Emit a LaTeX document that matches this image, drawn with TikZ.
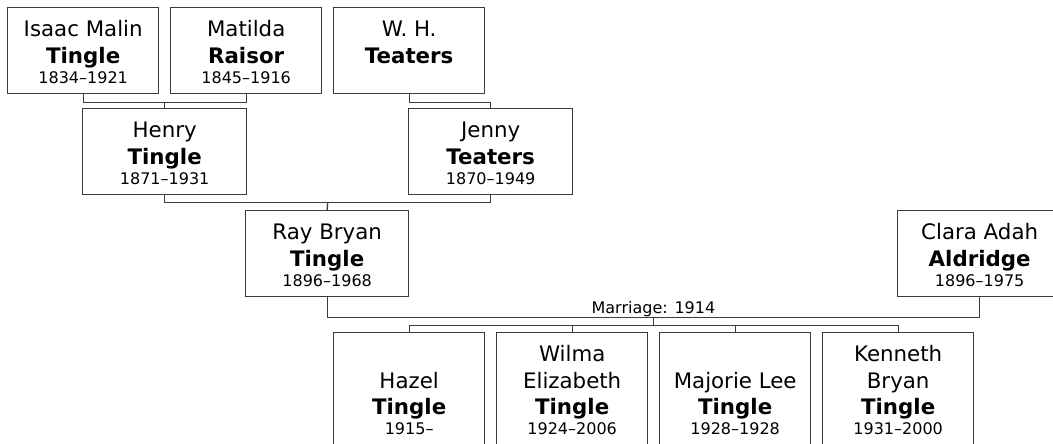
\documentclass[tikz,border=0pt]{standalone}
\usepackage{fontspec}
\setmainfont{DejaVu Sans}
\usetikzlibrary{calc}
\definecolor{linec}{RGB}{60,60,60}
\tikzset{
  pbox/.style={draw=linec, line width=1pt, rectangle, inner sep=0pt, anchor=north west, fill=white},
  conn/.style={draw=linec, line width=1pt},
  nm/.style={anchor=base, inner sep=0pt, font=\fontsize{16pt}{19pt}\selectfont},
  sn/.style={anchor=base, inner sep=0pt, font=\fontsize{16pt}{19pt}\selectfont\bfseries},
  dt/.style={anchor=base, inner sep=0pt, font=\fontsize{12pt}{14pt}\selectfont},
  mar/.style={anchor=base, inner sep=0pt, font=\fontsize{12pt}{14pt}\selectfont},
}
\newcommand\pbx[5]{\node[pbox, minimum width=#4*0.75pt, minimum height=#5*0.75pt] (#1) at (#2,#3) {};}
\newcommand\pline[5]{\node[#4] (#1#2) at ($(#1.north)+(0,#3)$) {#5};}
\begin{document}
\begin{tikzpicture}[x=0.75pt, y=-0.75pt]
\useasboundingbox (0,0) rectangle (1053,443);
\clip (0,0) rectangle (1053,443);
% boxes
\pbx{isaac}{7}{7}{151}{86}
\pbx{matilda}{170}{7}{151}{86}
\pbx{wh}{333}{7}{151}{86}
\pbx{henry}{82}{108}{164}{86}
\pbx{jenny}{408}{108}{164}{86}
\pbx{ray}{245}{210}{163}{86}
\pbx{clara}{897}{210}{164}{86}
\pbx{hazel}{333}{332}{151}{130}
\pbx{wilma}{496}{332}{151}{130}
\pbx{majorie}{659}{332}{151}{130}
\pbx{kenneth}{822}{332}{151}{130}
% texts
\pline{isaac}{a}{29.5}{nm}{Isaac Malin}
\pline{isaac}{b}{56}{sn}{Tingle}
\pline{isaac}{c}{76}{dt}{1834–1921}
\pline{matilda}{a}{29.5}{nm}{Matilda}
\pline{matilda}{b}{56}{sn}{Raisor}
\pline{matilda}{c}{76}{dt}{1845–1916}
\pline{wh}{a}{29.5}{nm}{W. H.}
\pline{wh}{b}{56}{sn}{Teaters}
\pline{henry}{a}{29.5}{nm}{Henry}
\pline{henry}{b}{56}{sn}{Tingle}
\pline{henry}{c}{76}{dt}{1871–1931}
\pline{jenny}{a}{29.5}{nm}{Jenny}
\pline{jenny}{b}{56}{sn}{Teaters}
\pline{jenny}{c}{76}{dt}{1870–1949}
\pline{ray}{a}{29.5}{nm}{Ray Bryan}
\pline{ray}{b}{56}{sn}{Tingle}
\pline{ray}{c}{76}{dt}{1896–1968}
\pline{clara}{a}{29.5}{nm}{Clara Adah}
\pline{clara}{b}{56}{sn}{Aldridge}
\pline{clara}{c}{76}{dt}{1896–1975}
\pline{hazel}{b}{56}{nm}{Hazel}
\pline{hazel}{c}{82}{sn}{Tingle}
\pline{hazel}{d}{102}{dt}{1915–}
\pline{wilma}{a}{29.5}{nm}{Wilma}
\pline{wilma}{b}{56}{nm}{Elizabeth}
\pline{wilma}{c}{82}{sn}{Tingle}
\pline{wilma}{d}{102}{dt}{1924–2006}
\pline{majorie}{b}{56}{nm}{Majorie Lee}
\pline{majorie}{c}{82}{sn}{Tingle}
\pline{majorie}{d}{102}{dt}{1928–1928}
\pline{kenneth}{a}{29.5}{nm}{Kenneth}
\pline{kenneth}{b}{56}{nm}{Bryan}
\pline{kenneth}{c}{82}{sn}{Tingle}
\pline{kenneth}{d}{102}{dt}{1931–2000}
% connectors
\coordinate (im) at ($(isaac.south)!0.5!(matilda.south)+(0,8)$);
\draw[conn] (isaac.south) |- (im) -| (matilda.south);
\draw[conn] (im) -- (henry.north);
\coordinate (wj) at ($(wh.south)+(0,8)$);
\draw[conn] (wh.south) -- (wj) -| (jenny.north);
\coordinate (hj) at ($(henry.south)!0.5!(jenny.south)+(0,7)$);
\draw[conn] (henry.south) |- (hj) -| (jenny.south);
\draw[conn] (hj) -- (ray.north);
\coordinate (rc) at ($(ray.south)!0.5!(clara.south)+(0,20)$);
\draw[conn] (ray.south) |- (rc) -| (clara.south);
\node[mar] (marriage) at ($(rc)+(0,-4)$) {Marriage: 1914};
\coordinate (kids) at ($(rc)+(0,8)$);
\draw[conn] (rc) -- (kids);
\draw[conn] (hazel.north) |- (kids) -| (kenneth.north);
\draw[conn] (wilma.north) -- (wilma.north |- kids);
\draw[conn] (majorie.north) -- (majorie.north |- kids);
\end{tikzpicture}
\end{document}
